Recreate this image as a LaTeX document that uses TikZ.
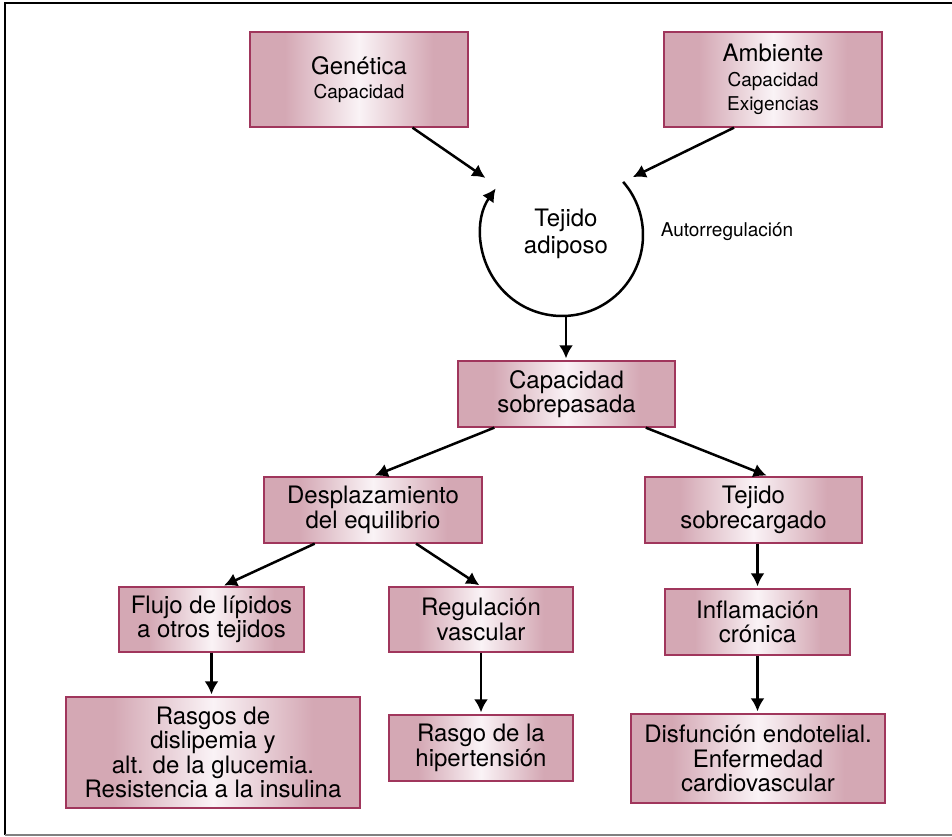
\documentclass[tikz,border=0pt]{standalone}
\usepackage{fontspec}
\setmainfont{TeX Gyre Heros}
\usetikzlibrary{arrows.meta}
\definecolor{rosa}{HTML}{D4A8B4}
\definecolor{rosaclaro}{HTML}{FAF3F6}
\definecolor{borde}{HTML}{A0365C}
\pgfdeclarehorizontalshading{brillo}{100bp}{color(0bp)=(rosa); color(33bp)=(rosa); color(50bp)=(rosaclaro); color(67bp)=(rosa); color(100bp)=(rosa)}
\newcommand{\grande}{\fontsize{24}{24.5}\selectfont}
\newcommand{\chica}{\fontsize{19}{23}\selectfont}
\tikzset{
	caja/.style={draw=borde, line width=1.3pt, shading=brillo, align=center, inner sep=0pt, font=\grande},
	flecha/.style={-{Latex[length=13pt,width=14pt]}, line width=2.5pt, shorten >=2pt}
}

\begin{document}
\begin{tikzpicture}[x=1pt,y=1pt]
				\useasboundingbox (0,0) rectangle (952,836);
				\draw[line width=2.5pt] (952,833) -- (5,833) -- (5,1);
				\draw[gray, line width=2pt] (5,1.5) -- (952,1.5);

				\node[caja, minimum width=218, minimum height=95] (gen) at (359,756.5) {Genética\\ \chica Capacidad};
				\node[caja, minimum width=218, minimum height=95] (amb) at (773,756.5) {Ambiente\\ \chica Capacidad\\ \chica Exigencias};

				\coordinate (ad) at (562,601);
				\coordinate (adb) at (566,520);
				\coordinate (gp) at (487,657);
				\coordinate (ap) at (631,658);
				\node[font=\fontsize{24}{27}\selectfont, align=center] (tej) at (566,602) {Tejido\\ adiposo};
				\node[font=\chica] (auto) at (727,604) {Autorregulación};
				\draw[flecha, shorten >=0pt] ([shift={(41:81)}]ad) arc[start angle=41, end angle=-215, radius=81pt];
				\draw[flecha] (gen.-42) -- (gp);
				\draw[flecha] (amb.-129) -- (ap);

				\node[caja, minimum width=217, minimum height=66] (cap) at (566.5,442) {Capacidad\\ sobrepasada};
				\draw[flecha] (adb) -- (adb |- cap.north);

				\node[caja, minimum width=218, minimum height=66] (desp) at (373,326) {Desplazamiento\\ del equilibrio};
				\node[caja, minimum width=217, minimum height=66] (sobre) at (753.5,326) {Tejido\\ sobrecargado};
				\draw[flecha] (cap.-155) -- (desp.north);
				\draw[flecha] (cap.-23) -- (sobre.66);

				\node[caja, minimum width=185, minimum height=65] (flujo) at (211.5,216.5) {Flujo de lípidos\\ a otros tejidos};
				\node[caja, minimum width=184, minimum height=65] (regul) at (481,216.5) {Regulación\\ vascular};
				\node[caja, minimum width=185, minimum height=66] (infl) at (757.5,214) {Inflamación\\ crónica};
				\draw[flecha] (desp.-150) -- (flujo.72);
				\draw[flecha] (desp.-38) -- (regul.north);
				\draw[flecha] (infl.north |- sobre.south) -- (infl);

				\node[caja, minimum width=294, minimum height=111] (rasgos) at (213,83.5) {Rasgos de\\ dislipemia y\\ alt. de la glucemia.\\ Resistencia a la insulina};
				\node[caja, minimum width=184, minimum height=66] (hiper) at (481,88) {Rasgo de la\\ hipertensión};
				\node[caja, minimum width=254, minimum height=89] (disf) at (758,77.5) {Disfunción endotelial.\\ Enfermedad\\ cardiovascular};
				\foreach \a/\b in {flujo/rasgos, regul/hiper, infl/disf}
				\draw[flecha] (\a.south) -- (\a.south |- \b.north);
			\end{tikzpicture}
\end{document}
